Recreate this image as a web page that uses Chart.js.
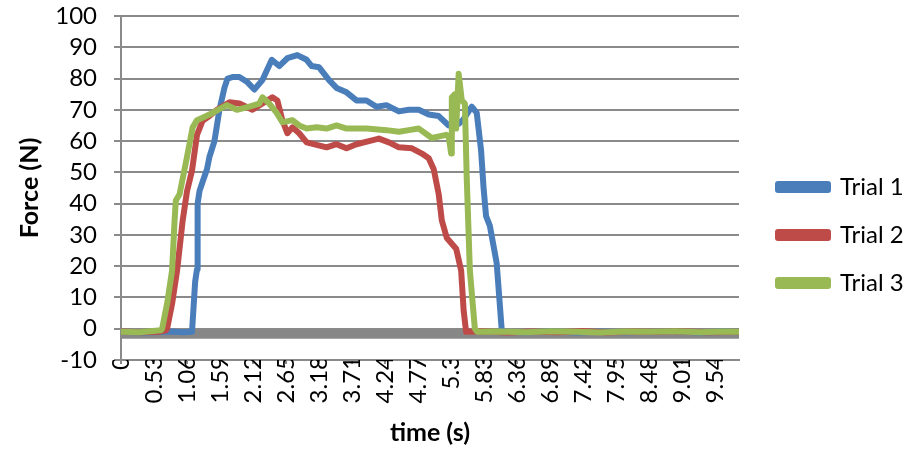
<!DOCTYPE html>
<html>
<head>
<meta charset="utf-8">
<script src="https://cdn.jsdelivr.net/npm/chart.js@4/dist/chart.umd.min.js"></script>
<style>
  html, body { margin: 0; padding: 0; background: #fff; }
  #wrap { width: 908px; height: 454px; }
</style>
</head>
<body>
<div id="wrap"><canvas id="forceChart" width="908" height="454"></canvas></div>
<script>
'use strict';
// time (s) and force (N) for each trial
let trial1Time = [0, 0.4, 0.8, 1.0, 1.14, 1.19, 1.22, 1.23, 1.26, 1.31, 1.38, 1.42, 1.50, 1.58, 1.66, 1.71, 1.80, 1.90, 2.02, 2.14, 2.27, 2.42, 2.54, 2.67, 2.83, 2.98, 3.06, 3.18, 3.34, 3.46, 3.62, 3.78, 3.94, 4.10, 4.26, 4.46, 4.62, 4.78, 4.94, 5.10, 5.26, 5.42, 5.50, 5.63, 5.71, 5.78, 5.82, 5.86, 5.92, 6.03, 6.11, 6.14, 6.5, 6.9, 7.3, 7.7, 8.1, 8.5, 8.9, 9.3, 9.7, 9.92];
let trial1Force = [-1, -1.2, -0.9, -1.1, -1, 15, 19, 40, 44, 47, 51, 55, 60, 70, 77, 80, 80.5, 80.5, 79, 76.5, 79.5, 86, 84, 86.5, 87.5, 86, 84, 83.6, 79.5, 77, 75.6, 73, 73, 71, 71.5, 69.5, 70, 70, 68.5, 68, 65, 65.5, 67, 71, 69, 57, 45, 36, 33, 21, 0, -1, -1.1, -0.8, -1.2, -0.9, -1.1, -1, -0.8, -1.2, -0.9, -1];

let trial2Time = [0, 0.3, 0.6, 0.72, 0.74, 0.82, 0.90, 0.99, 1.06, 1.14, 1.22, 1.31, 1.42, 1.54, 1.74, 1.90, 2.11, 2.27, 2.43, 2.51, 2.59, 2.67, 2.75, 2.86, 2.98, 3.30, 3.46, 3.62, 3.78, 3.98, 4.14, 4.30, 4.46, 4.67, 4.83, 4.94, 5.02, 5.10, 5.15, 5.23, 5.38, 5.46, 5.50, 5.54, 5.8, 6.2, 6.6, 7.0, 7.4, 7.8, 8.2, 8.6, 9.0, 9.4, 9.92];
let trial2Force = [-0.9, -1.1, -1, -0.5, 0, 8, 18.6, 34.6, 44, 50.6, 62, 66.5, 68, 70, 72.4, 72, 70, 72, 74, 73, 66.7, 62.5, 64.4, 62.5, 59.6, 58, 59, 57.7, 59, 60, 60.8, 59.6, 58, 57.7, 56, 54.5, 51, 43, 34.6, 29, 25.6, 18.6, 5.8, -1, -0.8, -1.2, -0.9, -1.1, -0.7, -1.2, -0.9, -1, -0.8, -1.1, -1];

let trial3Time = [0, 0.3, 0.64, 0.66, 0.74, 0.82, 0.86, 0.88, 0.94, 0.98, 1.06, 1.15, 1.22, 1.31, 1.47, 1.70, 1.86, 2.06, 2.22, 2.27, 2.38, 2.50, 2.59, 2.75, 2.86, 2.98, 3.14, 3.30, 3.46, 3.62, 3.94, 4.26, 4.46, 4.62, 4.78, 4.99, 5.22, 5.26, 5.30, 5.31, 5.36, 5.38, 5.42, 5.47, 5.52, 5.55, 5.60, 5.68, 5.72, 6.1, 6.5, 6.9, 7.3, 7.7, 8.1, 8.5, 8.9, 9.3, 9.7, 9.92];
let trial3Force = [-1, -1.1, -0.5, 0, 8, 18.6, 34.6, 41, 43, 47, 55, 64.4, 66.7, 67.5, 69, 71.5, 70, 71, 72, 74, 72, 69, 66, 66.7, 65, 64, 64.4, 64, 65, 64, 64, 63.5, 63, 63.5, 64, 61, 62, 61.5, 56, 74, 75, 64, 81.5, 73, 72, 48, 18.6, 0, -1, -0.9, -1.1, -0.8, -1, -1.2, -0.9, -1, -0.8, -1.1, -0.9, -1];

let seriesNames = ['Trial 1', 'Trial 2', 'Trial 3'];
let seriesColors = ['#4a7ebb', '#be4b48', '#98b954'];

let tickValues = [0, 0.53, 1.06, 1.59, 2.12, 2.65, 3.18, 3.71, 4.24, 4.77, 5.3, 5.83, 6.36, 6.89, 7.42, 7.95, 8.48, 9.01, 9.54];
let tickLabels = ['0', '0.53', '1.06', '1.59', '2.12', '2.65', '3.18', '3.71', '4.24', '4.77', '5.3', '5.83', '6.36', '6.89', '7.42', '7.95', '8.48', '9.01', '9.54'];

let gridGray = '#8a8a8a';

function toPoints(times, forces) {
    let pts = [];
    for (let i = 0; i < times.length; i++) {
        pts.push({x: times[i], y: forces[i]});
    }
    return pts;
}

// thick grey bar that Excel drew for the axis crossing at 0
let zeroBand = {
    id: 'zeroBand',
    beforeDatasetsDraw(chart) {
        let ctx = chart.ctx;
        let area = chart.chartArea;
        let y0 = chart.scales.y.getPixelForValue(0);
        ctx.save();
        ctx.fillStyle = '#878787';
        ctx.fillRect(area.left, y0 + 1, area.right - area.left, 9);
        ctx.restore();
    }
};

Chart.defaults.font.family = 'Lato';
Chart.defaults.color = '#000';

let allTimes = [trial1Time, trial2Time, trial3Time];
let allForces = [trial1Force, trial2Force, trial3Force];
let datasets = [];
for (let i = 0; i < seriesNames.length; i++) {
    datasets.push({
        label: seriesNames[i],
        data: toPoints(allTimes[i], allForces[i]),
        borderColor: seriesColors[i],
        backgroundColor: seriesColors[i],
        borderWidth: 6,
        borderJoinStyle: 'round',
        borderCapStyle: 'round',
        pointRadius: 0,
        tension: 0,
        order: 3 - i
    });
}

let ctx = document.getElementById('forceChart').getContext('2d');
let forceChart = new Chart(ctx, {
    type: 'line',
    data: { datasets: datasets },
    plugins: [zeroBand],
    options: {
        responsive: false,
        animation: false,
        layout: { padding: { top: 16, left: 0, right: 0, bottom: 0 } },
        plugins: {
            tooltip: { enabled: false },
            legend: {
                position: 'right',
                maxWidth: 154,
                labels: {
                    boxWidth: 50,
                    boxHeight: 6,
                    padding: 24,
                    font: { size: 24 },
                    sort: (a, b) => a.datasetIndex - b.datasetIndex
                }
            }
        },
        scales: {
            x: {
                type: 'linear',
                min: 0,
                max: 9.92,
                afterBuildTicks: (scale) => {
                    scale.ticks = tickValues.map(v => ({value: v}));
                },
                afterFit: (scale) => {
                    scale.height = 94;
                    scale.paddingLeft = 0;
                    scale.paddingRight = 0;
                },
                ticks: {
                    autoSkip: false,
                    minRotation: 90,
                    maxRotation: 90,
                    padding: -8,
                    font: { size: 24 },
                    callback: (value, index) => tickLabels[index]
                },
                grid: { drawOnChartArea: false, color: gridGray, lineWidth: 2, tickLength: 4 },
                border: { color: gridGray, width: 2 },
                title: { display: true, text: 'time (s)', font: { size: 25, weight: 'bold' }, padding: { top: 0, bottom: 6 } }
            },
            y: {
                min: -10,
                max: 100,
                afterFit: (scale) => {
                    scale.width = 121;
                    scale.paddingTop = 0;
                    scale.paddingBottom = 0;
                },
                ticks: { stepSize: 10, autoSkip: false, padding: 17, font: { size: 24 } },
                grid: { color: gridGray, lineWidth: 2, tickLength: 7 },
                border: { color: gridGray, width: 2 },
                title: { display: true, text: 'Force (N)', font: { size: 25, weight: 'bold' }, padding: { top: 15, bottom: 0 } }
            },
            yRight: {
                position: 'right',
                display: true,
                min: 0,
                max: 1,
                afterFit: (scale) => {
                    scale.width = 15;
                    scale.paddingTop = 0;
                    scale.paddingBottom = 0;
                },
                ticks: { display: false },
                grid: { display: false, drawTicks: false },
                border: { display: false }
            }
        }
    }
});
</script>
</body>
</html>
